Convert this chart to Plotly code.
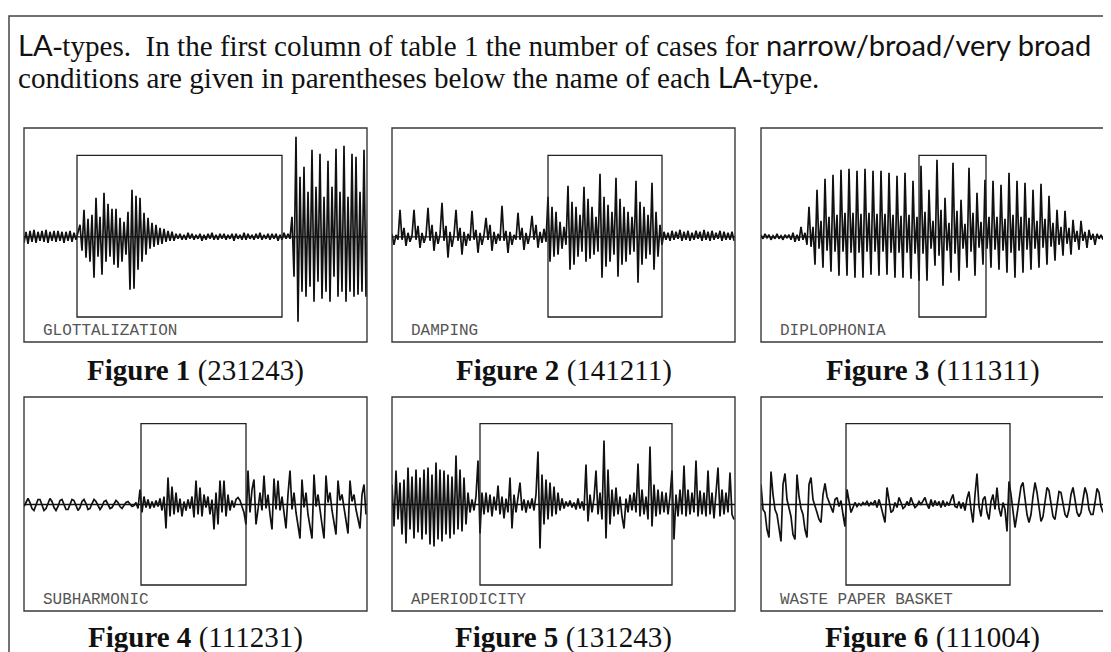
import plotly.graph_objects as go

# ---------------- data (amplitudes, one sample every 2 time units) -------------
STEP = 2
SPAN = 343

glottalization = [
    -6, 5, -7, 6, -5, 7, -6, 5, -4, 6, -5, 7, -6, 5, -4, 6, -5, 6, -4, 5, -6, 5, -4, 6, -5, 4, -3, 4,
    12, -14, 27, -21, 18, -25, 22, -41, 39, -20, 20, -38, 44, -25, 33, -20, 28, -28, 28, -31, 19, -25,
    15, -18, 25, -53, 47, -52, 41, -33, 39, -25, 24, -18, 19, -12, 14, -10, 12, -8, 9, -7, 8, -5, 6, -4,
    5, -4,
    3, -2, 3, -3, 2, -3, 4, -2, 3, -3, 2, -2, 3, -4, 2, -3, 3, -2, 4, -3, 2, -3, 3, -2, 3, -3, 2, -2,
    3, -4, 3, -2, 2, -3, 4, -3, 3, -2, 2, -3, 3, -2, 4, -3, 2, -2, 3, -3, 3, -2, 3, -4, 2, -3, 4, -2,
    3, -2,
    20, -40, 100, -85, 60, -55, 70, -60, 45, -50, 87, -65, 50, -45, 83, -62, 40, -55, 76, -65, 50, -40,
    88, -60, 45, -55, 91, -65, 40, -55, 83, -60, 80, -58, 45, -55, 87, -60, 40, -50, 91, -51,
]

damping = [
    3, -8, 2, -3,
    27, -3, 9, -9, 4, -5, 1,
    27, -3, 11, -11, 4, -6, 1,
    29, -4, 12, -14, 5, -7, 2,
    34, -4, 11, -21, 5, -10, 2,
    27, -4, 9, -18, 5, -9, 3, -4,
    26, -3, 7, -16, 4, -8, 2,
    19, -3, 12, -14, 5, -7, 3, -4,
    31, -4, 6, -16, 5, -8, 2, -3,
    24, -3, 9, -13, 4, -7, 2,
    21, -3, 12, -11, 5, -6, 8, -5,
    40, -25, 30, -20, 25, -18, 15, -12, 10, -8, 51, -33, 35, -28, 30, -20, 22, -15,
    50, -25, 38, -22, 30, -18, 20, -15, 63, -41, 40, -30, 32, -25, 25, -18,
    59, -40, 38, -28, 30, -25, 25, -18, 20, -15, 56, -46, 35, -28, 30, -22, 22, -18,
    54, -33, 25, -20, 12, -8,
    5, -3, 4, -4, 6, -3, 5, -2, 7, -4, 5, -3, 6, -4, 4, -3, 6, -2, 5, -4, 7, -3, 5, -4, 6, -3, 4, -2,
    6, -4, 5, -3, 4, -3, 5, -4,
]

diplophonia = [
    2, -2, 3, -1, 2, -3, 1, -2, 3, -2, 1, -3, 2, -1, 2, -3, 4, -5, 2, -4,
    10, -3, 4, -8,
    30, -10, 10, -28,
    47, -12, 16, -31,
    58, -14, 20, -35,
    62, -15, 22, -39,
    67, -15, 24, -39,
    68, -16, 24, -41,
    66, -16, 23, -41,
    68, -15, 24, -38,
    66, -15, 23, -39,
    66, -15, 23, -38,
    64, -16, 22, -41,
    61, -16, 21, -41,
    64, -16, 22, -42,
    56, -17, 20, -44,
    71, -17, 25, -44,
    47, -12, 16, -29,
    77, -19, 27, -49,
    39, -14, 14, -36,
    74, -17, 26, -44,
    37, -12, 13, -31,
    69, -15, 24, -39,
    44, -11, 15, -28,
    57, -12, 20, -31,
    56, -13, 20, -33,
    52, -14, 18, -36,
    64, -16, 22, -41,
    56, -14, 20, -36,
    54, -13, 19, -33,
    47, -12, 16, -31,
    53, -11, 18, -28,
    41, -10, 14, -24,
    27, -8, 10, -19,
    26, -7, 9, -18,
    17, -5, 6, -13,
    16, -4, 5, -11,
    7, -3, 3, -8,
    3, -2, 2, -3,
]

subharmonic = [
    -2, 3, 6, 2, -4, -6, -1, 5, 5, -1, -6,
    -4, 2, 6, 3, -3, -6, -2, 4, 5, 0, -5,
    -5, 1, 5, 4, -2, -6, -3, 3, 5, 1, -5,
    -4, 1, 5, 3, -2, -5, -2, 3, 4, 0, -4,
    -3, 1, 4, 2, -2, -4, -1, 2, 3, 0, -2,
    -1,
    2, -4, 15, -8, 8, -3, 5, -4, 3, -3, 4, -2, 6, -6, 8, -24, 27, -12, 18, -10, 12, -8, 6, -12,
    3, -6, 5, -4, 8, -13, 24, -10, 17, -12, 10, -3, 8, -10, 5, -25, 12, -20, 24, -8, 24, -12,
    10, -6, 4, -3, 5, 7, 4, -2, -8, -20,
    34, -8, 15, 25, -20, -5, 12, -6, 29, -4, 10, -10, -25, 26, -5, 24, -6, 8, -10, -24,
    10, 34, -5, 12, -8, -20, -34, 25, -3, 12, -10, -22, -34, 30, -2, 10, -8, -20, -34, 29,
    2, 12, -6, -18, -30, 24, 4, 10, -6, -16, -29, 24, 3, 10, -5, -14, -24, 10, 20, -10,
]

aperiodicity = [
    20, -22, 34, -15, 22, -30, 25, -39, 37, -25, 28, -34, 35, -28, 27, -35, 35, -30, 37, -40,
    30, -42, 42, -35, 35, -37, 34, -30, 30, -34, 28, -30, 49, -25, 35, -27, 27, -20, 12, -8, 5,
    -6, 8, 44, -29, 12, -10, 12, -8, 10, -12, 8, -6, 19, -10, 8, -14, 6, -8, 27, -24,
    10, -8, 6, 22, -6, 5, -8, 4, -4, 6, -6, 10, 53, -44, 30, -20, 25, -15, 22, -12,
    18, -10, 12, -6, 6, -4, 3, -2, 4, -3, 2, -5, 6, -4, 3, -6, 40, -17, 10, -8,
    6, 34, -10, 12, -15, 64, -34, 35, -20, 15, -12, 17, -10, 8, -12, -24, 6, -8, 10, -6,
    12, -8, 41, -12, 15, -10, 8, -15, 58, -22, 20, -12, 15, -10, 13, -8, 12, -10, 8, 34,
    -35, 10, -12, 15, -10, 39, -12, 15, -10, 12, -8, 44, -12, 14, -10, 12, -12, 34, -10, 12,
    -14, 10, 37, -12, 15, -10, 12, -8, 32, -10, -15,
]

waste_paper_basket = [
    20, -5, -8, -25, -33, 33, 10, -5, -10, -25, -37, 20, 31, 5, -5, -12, -30, -35,
    30, 8, -4, -10, -25, -33, 20, 27, 5, -3, -8, -15, -18, 10, 21, 8, 2, -3, -8, 5, 7, -2, 4, -10, -22,
    15, 5, -8, -3, 2, -2, 1, -1, 2, 0, 3, -1, 2, 0, 4, -3, 5, -2, -10, -18,
    17, 4, -8, -6, 2, -3, 7, 2, -4, -2, 3, -1, 7, 1, -3, -1, 3, 0, 4, 7,
    0, -4, 5, -2, 4, -1, 3, -3, 4, -2, 2, -1, 5, 10, -2, -3, 3, -4, 2, -6,
    6, 13, -5, -18, 10, 31, -2, -12, 5, 8, -8, -15, 3, 10, -5, 17, -4, -12, 2, -5, -27, 23,
    10, -5, -23, -10, 5, 18, 22, 5, -10, -18, -10, 8, 22, 12, -5, -17, -12, 2, 17, 14,
    0, -12, -15, -3, 13, 12, 0, -10, -13, -5, 10, 17, 5, -8, -12, -8, 5, 17, 10, -5,
    -10, -10, 2, 16, 12, -2, -8,
]

labels = ["GLOTTALIZATION", "DAMPING", "DIPLOPHONIA", "SUBHARMONIC", "APERIODICITY", "WASTE PAPER BASKET"]
figure_numbers = [1, 2, 3, 4, 5, 6]
case_counts = ["231243", "141211", "111311", "111231", "131243", "111004"]
signals = [glottalization, damping, diplophonia, subharmonic, aperiodicity, waste_paper_basket]
window_start = [53, 156, 158, 117, 88, 85]
window_end = [258, 270, 225, 222, 280, 249]

# ---------------- layout geometry (page pixels) ----------------
W, H = 1111, 652
OFF = 8          # the page body has an 8px margin around the figure
col_x = [(24, 367), (392, 735), (761, 1104)]
row_y = [(128, 342, 236.8), (397, 611, 504.5)]   # top, bottom, zero line
win_y = [(155.3, 317), (423.7, 585)]
caption_gap = [28, 26]


def px(x):
    return (x - OFF) / W


def py(y):
    return 1 - (y - OFF) / H


fig = go.Figure()
shapes = []
annotations = []

for k in range(6):
    r, c = divmod(k, 3)
    x0, x1 = col_x[c]
    top, bot, zero = row_y[r]
    ax = "" if k == 0 else str(k + 1)
    xa, ya = "x" + ax, "y" + ax
    sig = signals[k]
    fig.add_trace(go.Scatter(
        x=[i * STEP for i in range(len(sig))], y=sig, mode="lines",
        line=dict(color="#111111", width=1.7), xaxis=xa, yaxis=ya,
        hoverinfo="skip", showlegend=False,
    ))
    fig.update_layout(**{
        "xaxis" + ax: dict(domain=[px(x0), px(x1)], range=[0, SPAN], visible=False, fixedrange=True),
        "yaxis" + ax: dict(domain=[py(bot), py(top)], range=[-(bot - zero), zero - top],
                           visible=False, fixedrange=True),
    })
    shapes.append(dict(type="rect", xref=xa + " domain", yref=ya + " domain", x0=0, x1=1, y0=0, y1=1,
                       line=dict(color="#3a3a3a", width=1.4), layer="above"))
    shapes.append(dict(type="line", xref=xa + " domain", yref=ya, x0=0, x1=1, y0=0, y1=0,
                       line=dict(color="#111111", width=1.3), layer="above"))
    wt, wb = win_y[r]
    shapes.append(dict(type="rect", xref=xa, yref=ya, x0=window_start[k], x1=window_end[k],
                       y0=-(wb - zero), y1=zero - wt, line=dict(color="#222222", width=1.3), layer="above"))
    annotations.append(dict(text=labels[k], x=px(x0 + 17), y=py(bot - 11), xref="paper", yref="paper",
                            xanchor="left", yanchor="middle", showarrow=False,
                            font=dict(family="Liberation Mono, Courier New, monospace", size=16,
                                      color="#555555")))
    annotations.append(dict(text=f"<b>Figure {figure_numbers[k]}</b> ({case_counts[k]})",
                            x=px((x0 + x1) / 2), y=py(bot + caption_gap[r]), xref="paper", yref="paper",
                            xanchor="center", yanchor="middle", showarrow=False,
                            font=dict(family="Liberation Serif, Times New Roman, serif", size=29,
                                      color="#111111")))

shapes.append(dict(type="path", xref="paper", yref="paper",
                   path=f"M {px(9)} {py(H + 20)} L {px(9)} {py(16)} L {px(W + 20)} {py(16)}",
                   line=dict(color="#444444", width=1.5)))

sans = "font-family:Lato"
line1 = (f'<span style="{sans}">LA</span>-types.  In the first column of table 1 the number of cases for '
         f'<span style="{sans}">narrow/broad/very broad</span>')
line2 = f'conditions are given in parentheses below the name of each <span style="{sans}">LA</span>-type.'
annotations.append(dict(text=line1, x=px(16), y=py(44), xref="paper", yref="paper", xanchor="left",
                        yanchor="middle", showarrow=False,
                        font=dict(family="Liberation Serif, serif", size=29.1, color="#111111")))
annotations.append(dict(text=line2, x=px(16), y=py(77), xref="paper", yref="paper", xanchor="left",
                        yanchor="middle", showarrow=False,
                        font=dict(family="Liberation Serif, serif", size=29.1, color="#111111")))

fig.update_layout(width=W, height=H, margin=dict(l=0, r=0, t=0, b=0), paper_bgcolor="white",
                  plot_bgcolor="white", shapes=shapes, annotations=annotations, showlegend=False)
fig.write_html("out.html")
